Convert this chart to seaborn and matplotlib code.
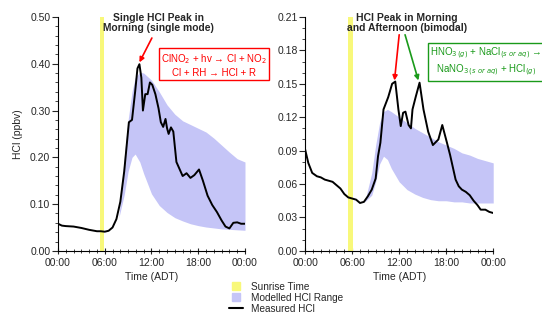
import matplotlib
matplotlib.use("Agg")
import matplotlib.pyplot as plt
import matplotlib.ticker as mticker
import matplotlib.lines as mlines
import pandas as pd
import seaborn as sns

# hours after midnight (ADT)
SUNRISE_LEFT = (5.4, 5.95)
SUNRISE_RIGHT = (5.5, 6.05)

# left panel: measured HCl (ppbv)
left_hours = [0, 0.5, 1, 2, 3, 4, 5, 5.5, 6, 6.5, 7, 7.5, 8, 8.5, 8.9, 9.1, 9.5,
              9.9, 10.2, 10.45, 10.7, 10.9, 11.2, 11.5, 11.8, 12.1, 12.5, 12.9,
              13.2, 13.5, 13.8, 14.0, 14.2, 14.5, 14.8, 15.2, 15.6, 16.0, 16.5,
              17.0, 17.5, 18.1, 18.6, 19.2, 19.8, 20.4, 21.0, 21.5, 22.0, 22.5,
              23.0, 23.5, 24.0]
left_hcl = [0.058, 0.054, 0.053, 0.052, 0.049, 0.045, 0.042, 0.042, 0.041, 0.043,
            0.050, 0.068, 0.105, 0.17, 0.24, 0.275, 0.28, 0.34, 0.39, 0.399, 0.37,
            0.300, 0.335, 0.335, 0.36, 0.355, 0.335, 0.305, 0.275, 0.265, 0.282,
            0.262, 0.25, 0.264, 0.255, 0.19, 0.175, 0.16, 0.166, 0.156, 0.162,
            0.174, 0.15, 0.118, 0.098, 0.083, 0.065, 0.052, 0.048, 0.060, 0.061,
            0.058, 0.058]

# left panel: modelled HCl range
left_model_hours = [7.8, 8.5, 9.0, 9.5, 9.9, 10.5, 11.0, 12.0, 13.0, 14.0, 15.0,
                    16.0, 17.0, 18.0, 19.0, 20.0, 21.0, 22.0, 23.0, 24.0]
left_model_low = [0.07, 0.12, 0.17, 0.20, 0.207, 0.19, 0.165, 0.122, 0.097, 0.082,
                  0.071, 0.064, 0.058, 0.054, 0.051, 0.049, 0.047, 0.046, 0.045, 0.044]
left_model_high = [0.07, 0.20, 0.28, 0.34, 0.37, 0.382, 0.38, 0.365, 0.34, 0.312,
                   0.292, 0.278, 0.27, 0.262, 0.254, 0.241, 0.226, 0.211, 0.197, 0.19]

# right panel: measured HCl (ppbv)
right_hours = [0, 0.2, 0.4, 0.9, 1.5, 2.0, 2.5, 3.0, 3.5, 4.0, 4.5, 5.0, 5.5, 6.0,
               6.5, 7.0, 7.5, 8.0, 8.5, 9.0, 9.3, 9.6, 10.0, 10.6, 11.1, 11.5,
               11.9, 12.2, 12.5, 12.8, 13.2, 13.5, 13.7, 14.1, 14.6, 15.1, 15.7,
               16.3, 17.0, 17.5, 18.1, 18.5, 19.2, 19.6, 20.0, 20.5, 21.0, 21.5,
               22.0, 22.4, 23.0, 23.5, 24.0]
right_hcl = [0.091, 0.085, 0.079, 0.070, 0.067, 0.066, 0.064, 0.063, 0.062, 0.059,
             0.056, 0.051, 0.048, 0.047, 0.046, 0.043, 0.044, 0.049, 0.055, 0.065,
             0.085, 0.097, 0.127, 0.138, 0.150, 0.152, 0.127, 0.112, 0.124, 0.125,
             0.113, 0.110, 0.127, 0.138, 0.151, 0.127, 0.107, 0.095, 0.100, 0.113,
             0.097, 0.086, 0.064, 0.058, 0.055, 0.053, 0.050, 0.045, 0.041, 0.037,
             0.037, 0.035, 0.034]

# right panel: modelled HCl range
right_model_hours = [7.6, 8.5, 9.0, 9.5, 10.0, 10.5, 11.0, 12.0, 13.0, 14.0, 15.0,
                     16.0, 17.0, 18.0, 19.0, 20.0, 21.0, 22.0, 23.0, 24.0]
right_model_low = [0.044, 0.05, 0.062, 0.078, 0.085, 0.082, 0.074, 0.062, 0.055,
                   0.051, 0.048, 0.046, 0.045, 0.045, 0.044, 0.044, 0.043, 0.043,
                   0.043, 0.043]
right_model_high = [0.044, 0.07, 0.095, 0.115, 0.125, 0.127, 0.125, 0.12, 0.115,
                    0.11, 0.106, 0.102, 0.098, 0.095, 0.092, 0.088, 0.086, 0.083,
                    0.081, 0.079]

X_TICKS = [0, 6, 12, 18, 24]
X_TICK_LABELS = ["00:00", "06:00", "12:00", "18:00", "00:00"]

YELLOW = "#f8f87a"
LAVENDER = "#c5c5f7"
GREEN = "#1a9a1a"
FONT = ["Liberation Sans", "DejaVu Sans"]


def style_axis(ax, ymax, ymajor, yminor):
    ax.set_xlim(0, 24)
    ax.set_ylim(0, ymax)
    ax.set_xticks(X_TICKS)
    ax.set_xticklabels(X_TICK_LABELS)
    ax.xaxis.set_minor_locator(mticker.MultipleLocator(1))
    ax.yaxis.set_major_locator(mticker.MultipleLocator(ymajor))
    ax.yaxis.set_minor_locator(mticker.MultipleLocator(yminor))
    ax.yaxis.set_major_formatter(mticker.FormatStrFormatter("%.2f"))
    ax.tick_params(axis="both", which="major", labelsize=7.5, length=4, width=0.8,
                   direction="out", pad=1.5)
    ax.tick_params(axis="x", which="major", direction="inout", length=5, pad=2.4)
    ax.tick_params(axis="both", which="minor", length=2.5, width=0.6)
    ax.tick_params(axis="x", which="minor", direction="inout", length=3)
    for side in ["top", "right"]:
        ax.spines[side].set_visible(False)
    for side in ["left", "bottom"]:
        ax.spines[side].set_color("black")
        ax.spines[side].set_linewidth(0.8)
    ax.set_xlabel("Time (ADT)", fontsize=7.5, labelpad=3.3)
    ax.grid(False)


def draw_panel(ax, hours, hcl, m_hours, m_low, m_high, sunrise):
    ax.axvspan(sunrise[0], sunrise[1], color=YELLOW, lw=0, zorder=1)
    ax.fill_between(m_hours, m_low, m_high, color=LAVENDER, lw=0, zorder=2)
    df = pd.DataFrame({"hour": hours, "hcl": hcl})
    sns.lineplot(data=df, x="hour", y="hcl", ax=ax, color="black", lw=1.4,
                 zorder=3)


sns.set_theme(style="ticks")
plt.rcParams["font.family"] = FONT

fig = plt.figure(figsize=(5.42, 3.14), dpi=100)
ax1 = fig.add_axes([0.107, 0.201, 0.345, 0.745])
ax2 = fig.add_axes([0.563, 0.201, 0.347, 0.745])

draw_panel(ax1, left_hours, left_hcl, left_model_hours, left_model_low,
           left_model_high, SUNRISE_LEFT)
draw_panel(ax2, right_hours, right_hcl, right_model_hours, right_model_low,
           right_model_high, SUNRISE_RIGHT)

style_axis(ax1, 0.5, 0.1, 0.02)
style_axis(ax2, 0.21, 0.03, 0.01)
ax1.set_ylabel("HCl (ppbv)", fontsize=7.5, labelpad=5)
ax2.set_ylabel("")

arrow = dict(arrowstyle="-|>", lw=1.2, mutation_scale=7, shrinkA=0, shrinkB=0)

# left annotations
ax1.text(0.535, 1.015, "Single HCl Peak in\nMorning (single mode)",
         transform=ax1.transAxes, ha="center", va="top", fontsize=7.4,
         fontweight="bold", linespacing=1.0)
ax1.annotate("", xy=(10.45, 0.403), xytext=(12.05, 0.455),
             arrowprops=dict(arrow, color="red"))
ax1.text(0.834, 0.794,
         "ClNO$_2$ + hv \u2192 Cl + NO$_2$\nCl + RH \u2192 HCl + R",
         transform=ax1.transAxes, ha="center", va="center", fontsize=7,
         color="red", linespacing=1.15,
         bbox=dict(boxstyle="square,pad=0.25", fc="white", ec="red", lw=1.0))

# right annotations
ax2.text(0.543, 1.015, "HCl Peak in Morning\nand Afternoon (bimodal)",
         transform=ax2.transAxes, ha="center", va="top", fontsize=7.5,
         fontweight="bold", linespacing=1.0)
ax2.annotate("", xy=(11.4, 0.153), xytext=(12.0, 0.194),
             arrowprops=dict(arrow, color="red"))
ax2.annotate("", xy=(14.45, 0.153), xytext=(12.75, 0.194),
             arrowprops=dict(arrow, color=GREEN))
ax2.text(0.963, 0.808,
         "HNO$_{3\\,(g)}$ + NaCl$_{(s\\ or\\ aq)}$ \u2192\n"
         "NaNO$_{3\\,(s\\ or\\ aq)}$ + HCl$_{(g)}$",
         transform=ax2.transAxes, ha="center", va="center", fontsize=7,
         color=GREEN, linespacing=1.2,
         bbox=dict(boxstyle="square,pad=0.25", fc="white", ec=GREEN, lw=1.0))

handles = [
    mlines.Line2D([], [], ls="", marker="s", markersize=6, color=YELLOW,
                  label="Sunrise Time"),
    mlines.Line2D([], [], ls="", marker="s", markersize=6, color=LAVENDER,
                  label="Modelled HCl Range"),
    mlines.Line2D([], [], color="black", lw=1.5, label="Measured HCl"),
]
fig.legend(handles=handles, loc="center left", bbox_to_anchor=(0.413, 0.051),
           frameon=False, fontsize=7.2, handlelength=1.45, labelspacing=0.1,
           borderpad=0, handletextpad=0.75)

fig.savefig("out.png", dpi=100)
